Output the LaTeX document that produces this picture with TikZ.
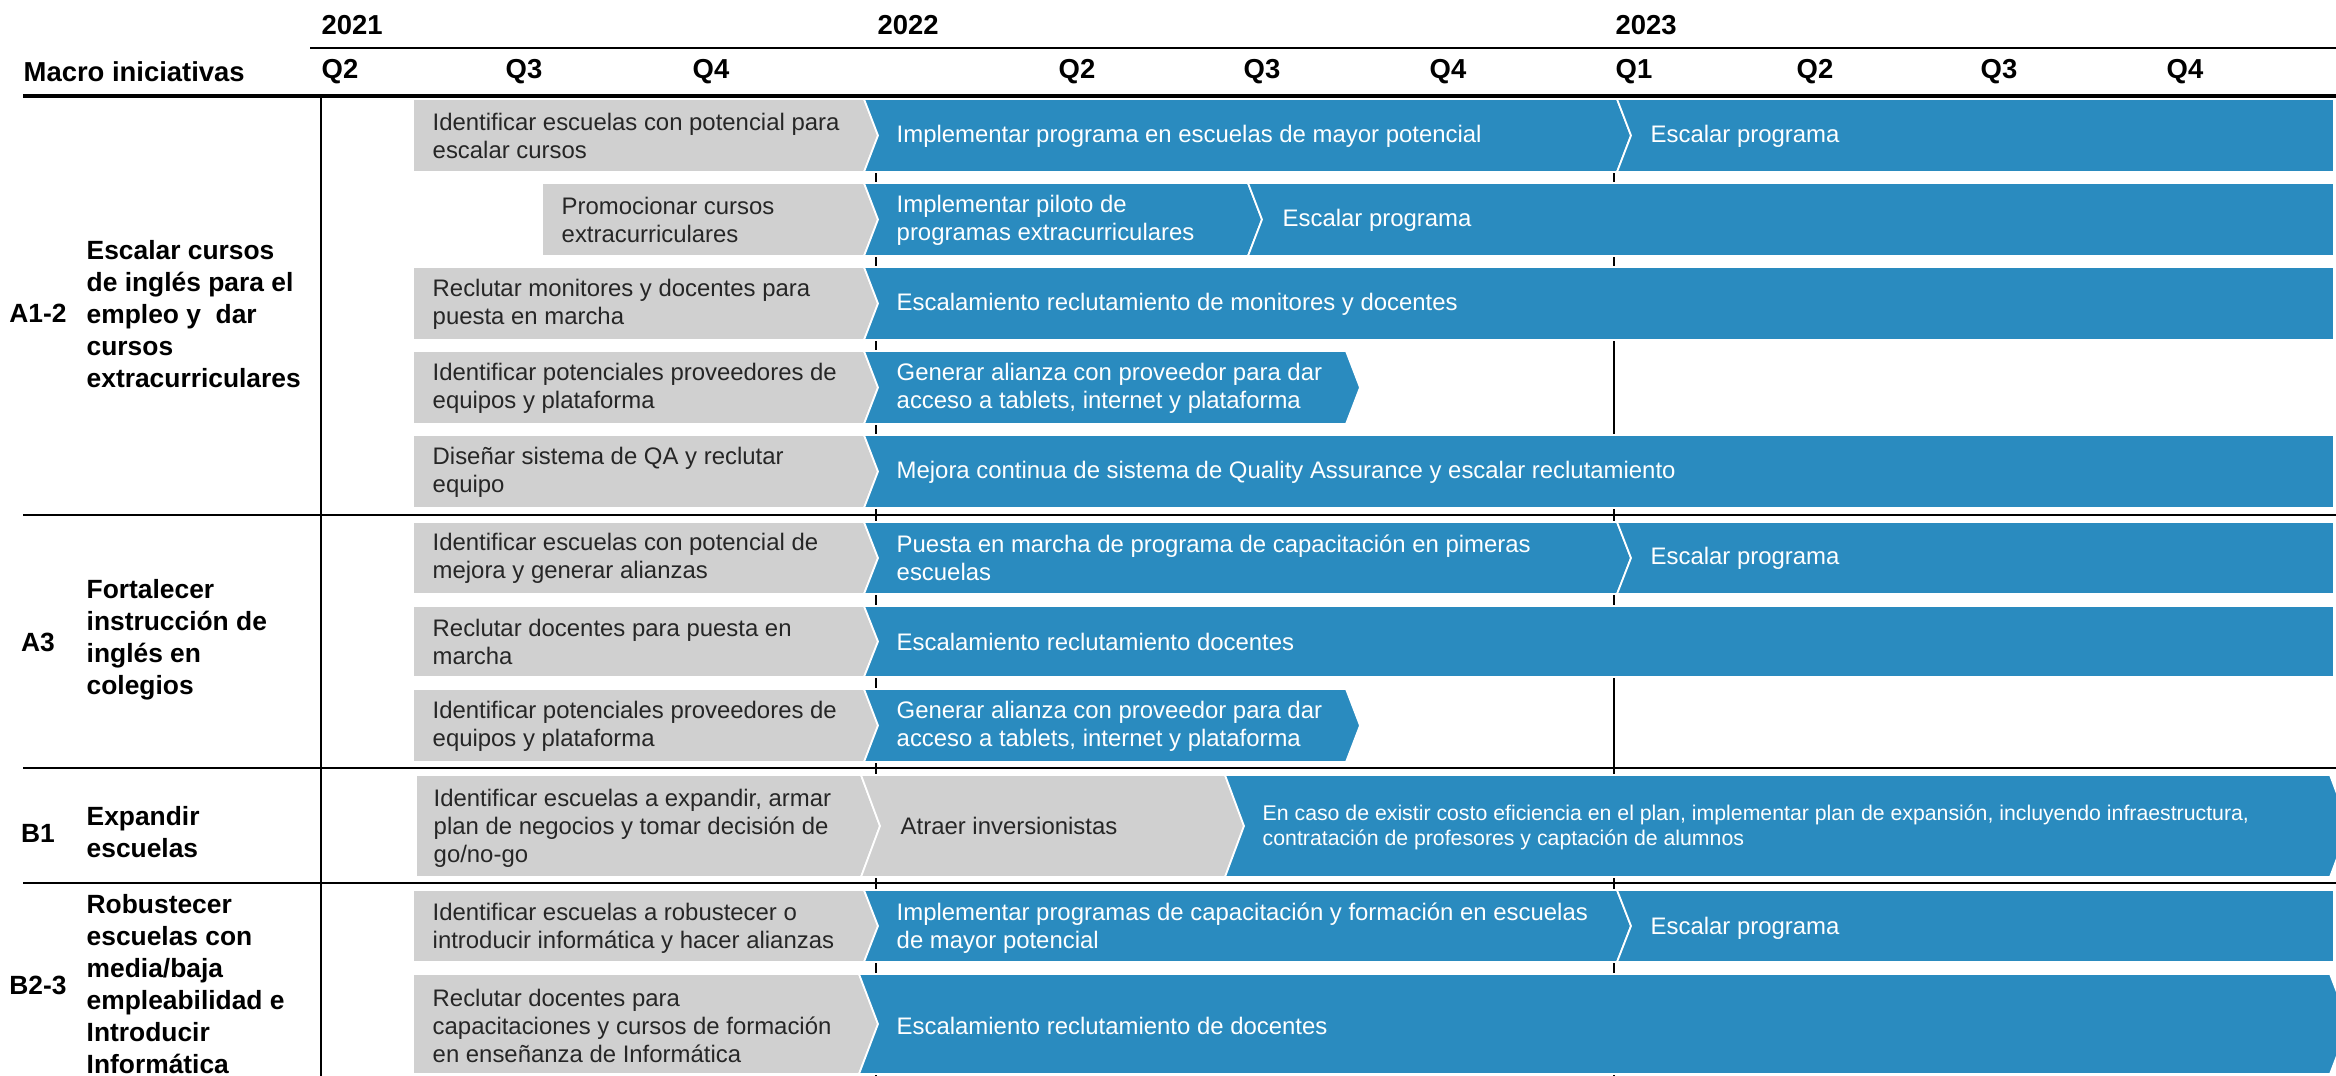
\documentclass[tikz,border=0pt]{standalone}
\usepackage{fontspec}
\setmainfont{Liberation Sans}
\definecolor{barblue}{HTML}{2A8BBF}
\definecolor{bargray}{HTML}{D0D0D0}
\definecolor{txtgray}{HTML}{262626}
% #1 style, #2 left x, #3 right tip x, #4 top y, #5 bottom y, #6 notch depth, #7 tip depth
\newcommand{\phase}[7]{%
  \path[#1] (#2,#4) -- ({#3-#7},#4) -- (#3,{(#4+#5)/2}) -- ({#3-#7},#5)
    -- (#2,#5) -- ({#2+#6},{(#4+#5)/2}) -- cycle;}
\begin{document}
\begin{tikzpicture}
  [x=0.01cm, y=-0.01cm,
   hdr/.style={anchor=west, inner sep=0pt, font=\bfseries\fontsize{7.8}{9}\selectfont},
   tag/.style={inner sep=0pt, font=\bfseries\fontsize{7.5}{9.1}\selectfont},
   macro/.style={anchor=west, inner sep=0pt, align=left, font=\bfseries\fontsize{7.5}{9.1}\selectfont},
   gtxt/.style={anchor=west, inner sep=0pt, align=left, text=txtgray, font=\fontsize{6.8}{8}\selectfont},
   btxt/.style={gtxt, text=white},
   stxt/.style={btxt, font=\fontsize{6.05}{7.1}\selectfont},
   gbar/.style={fill=bargray, draw=white, line width=0.5pt},
   bbar/.style={fill=barblue, draw=white, line width=0.5pt}]
  \useasboundingbox (0,0) rectangle (2336,1076);

  \node[hdr] (y2021) at (321,25) {2021};
  \node[hdr] (y2022) at (877,25) {2022};
  \node[hdr] (y2023) at (1615,25) {2023};
  \node[hdr] (macro) at (23,72) {Macro iniciativas};
  \foreach \x/\q [count=\i] in {321/Q2,505/Q3,692/Q4,1058/Q2,1243/Q3,1429/Q4,1615/Q1,1796/Q2,1980/Q3,2166/Q4}
  {
    \node[hdr] (q\i) at (\x,72) {\q};
  }

  \draw[line width=0.6pt] (310,48) -- (2336,48);
  \draw[line width=1.1pt] (23,96) -- (2336,96);
  \draw[line width=0.6pt] (321,96) -- (321,1076);
  \draw[line width=0.45pt] (876,96) -- (876,1076);
  \draw[line width=0.45pt] (1614,96) -- (1614,1076);

  % A1-2
  \phase{gbar}{413}{878}{99}{172}{0}{14}
  \phase{bbar}{864}{1631}{99}{172}{14}{14}
  \phase{bbar}{1617}{2334}{99}{172}{14}{0}
  \node[gtxt] (g1) at (432,136) {Identificar escuelas con potencial para\\escalar cursos};
  \node[btxt] (b1) at (896,136) {Implementar programa en escuelas de mayor potencial};
  \node[btxt] (c1) at (1650,136) {Escalar programa};

  \phase{gbar}{542}{878}{183}{256}{0}{14}
  \phase{bbar}{864}{1262}{183}{256}{14}{14}
  \phase{bbar}{1248}{2334}{183}{256}{14}{0}
  \node[gtxt] (g2) at (561,220) {Promocionar cursos\\extracurriculares};
  \node[btxt] (b2) at (896,220) {Implementar piloto de\\programas extracurriculares};
  \node[btxt] (c2) at (1282,220) {Escalar programa};

  \phase{gbar}{413}{878}{267}{340}{0}{14}
  \phase{bbar}{864}{2334}{267}{340}{14}{0}
  \node[gtxt] (g3) at (432,304) {Reclutar monitores y docentes para\\puesta en marcha};
  \node[btxt] (b3) at (896,304) {Escalamiento reclutamiento de monitores y docentes};

  \phase{gbar}{413}{878}{351}{424}{0}{14}
  \phase{bbar}{864}{1360}{351}{424}{14}{14}
  \node[gtxt] (g4) at (432,388) {Identificar potenciales proveedores de\\equipos y plataforma};
  \node[btxt] (b4) at (896,388) {Generar alianza con proveedor para dar\\acceso a tablets, internet y plataforma};

  \phase{gbar}{413}{878}{435}{508}{0}{14}
  \phase{bbar}{864}{2334}{435}{508}{14}{0}
  \node[gtxt] (g5) at (432,472) {Diseñar sistema de QA y reclutar\\equipo};
  \node[btxt] (b5) at (896,472) {Mejora continua de sistema de Quality Assurance y escalar reclutamiento};

  % A3
  \phase{gbar}{413}{878}{522}{594}{0}{14}
  \phase{bbar}{864}{1631}{522}{594}{14}{14}
  \phase{bbar}{1617}{2334}{522}{594}{14}{0}
  \node[gtxt] (g6) at (432,558) {Identificar escuelas con potencial de\\mejora y generar alianzas};
  \node[btxt] (b6) at (896,558) {Puesta en marcha de programa de capacitación en pimeras\\escuelas};
  \node[btxt] (c6) at (1650,558) {Escalar programa};

  \phase{gbar}{413}{878}{606}{677}{0}{14}
  \phase{bbar}{864}{2334}{606}{677}{14}{0}
  \node[gtxt] (g7) at (432,642) {Reclutar docentes para puesta en\\marcha};
  \node[btxt] (b7) at (896,642) {Escalamiento reclutamiento docentes};

  \phase{gbar}{413}{878}{689}{762}{0}{14}
  \phase{bbar}{864}{1360}{689}{762}{14}{14}
  \node[gtxt] (g8) at (432,726) {Identificar potenciales proveedores de\\equipos y plataforma};
  \node[btxt] (b8) at (896,726) {Generar alianza con proveedor para dar\\acceso a tablets, internet y plataforma};

  % B1
  \phase{gbar}{416}{880}{775}{877}{0}{19}
  \phase{gbar}{861}{1244}{775}{877}{19}{19}
  \phase{bbar}{1225}{2349}{775}{877}{19}{19}
  \node[gtxt] (g9) at (433,828) {Identificar escuelas a expandir, armar\\plan de negocios y tomar decisión de\\go/no-go};
  \node[gtxt] (a9) at (900,826) {Atraer inversionistas};
  \node[stxt] (b9) at (1262,827) {En caso de existir costo eficiencia en el plan, implementar plan de expansión, incluyendo infraestructura,\\contratación de profesores y captación de alumnos};

  % B2-3
  \phase{gbar}{413}{878}{890}{962}{0}{14}
  \phase{bbar}{864}{1631}{890}{962}{14}{14}
  \phase{bbar}{1617}{2334}{890}{962}{14}{0}
  \node[gtxt] (g10) at (432,928) {Identificar escuelas a robustecer o\\introducir informática y hacer alianzas};
  \node[btxt] (b10) at (896,928) {Implementar programas de capacitación y formación en escuelas\\de mayor potencial};
  \node[btxt] (c10) at (1650,928) {Escalar programa};

  \phase{gbar}{413}{878}{974}{1074}{0}{19}
  \phase{bbar}{859}{2349}{974}{1074}{19}{19}
  \node[gtxt] (g11) at (432,1026) {Reclutar docentes para\\capacitaciones y cursos de formación\\en enseñanza de Informática};
  \node[btxt] (b11) at (896,1026) {Escalamiento reclutamiento de docentes};

  \draw[line width=0.8pt] (23,515) -- (2336,515);
  \draw[line width=0.8pt] (23,768) -- (2336,768);
  \draw[line width=0.8pt] (23,883) -- (2336,883);

  \node[tag] (tA12) at (38,313) {A1-2};
  \node[macro] (mA12) at (86,314) {Escalar cursos\\de inglés para el\\empleo y~ dar\\cursos\\extracurriculares};
  \node[tag] (tA3) at (38,642) {A3};
  \node[macro] (mA3) at (86,640) {Fortalecer\\instrucción de\\inglés en\\colegios};
  \node[tag] (tB1) at (38,833) {B1};
  \node[macro] (mB1) at (86,832) {Expandir\\escuelas};
  \node[tag] (tB23) at (38,985) {B2-3};
  \node[macro] (mB23) at (86,984) {Robustecer\\escuelas con\\media/baja\\empleabilidad e\\Introducir\\Informática};
\end{tikzpicture}
\end{document}
